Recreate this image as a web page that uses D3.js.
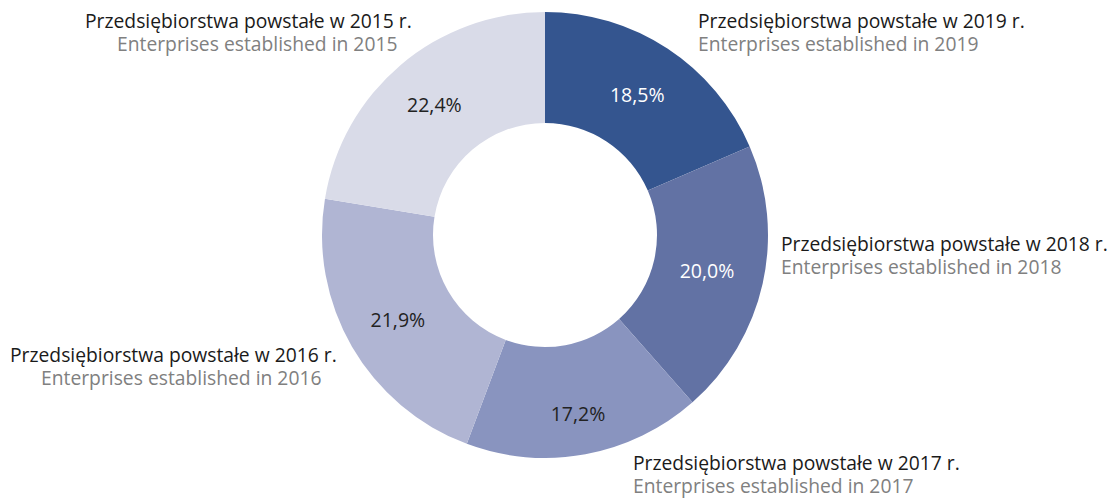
<!DOCTYPE html>
<html>
<head>
<meta charset="utf-8">
<script src="https://cdn.jsdelivr.net/npm/d3@7"></script>
<style>
  body { margin: 0; background: #fff; }
  text { font-family: "Open Sans", "Noto Sans", sans-serif; }
</style>
</head>
<body>
<script>
const svgWidth = 1111;
const svgHeight = 499;

// dane
const years = ['2019', '2018', '2017', '2016', '2015'];
const shares = [18.5, 20.0, 17.2, 21.9, 22.4];
const labelsPl = years.map(y => 'Przedsiębiorstwa powstałe w ' + y + ' r.');
const labelsEn = years.map(y => 'Enterprises established in ' + y);
const colors = ['#34558f', '#6272a4', '#8994bf', '#b0b5d3', '#d9dbe8'];
const valueColors = ['#ffffff', '#ffffff', '#222222', '#222222', '#222222'];

// label placement: [x of line 1, x of line 2, baseline of line 1]
const labelPos = [
    [698, 698, 28],
    [781, 781, 251],
    [633, 633, 470],
    [10, 41, 362],
    [85, 117, 28]
];
// promień, na którym stoją wartości procentowe
const valueRadius = [168, 166, 182, 170, 171];

const cx = 545, cy = 235;
const outerR = 223, innerR = 112;

const svg = d3.select('body')
    .append('svg')
    .attr('width', svgWidth)
    .attr('height', svgHeight);

const pie = d3.pie().sort(null).value(d => d);
const arcs = pie(shares);

const arc = d3.arc().innerRadius(innerR).outerRadius(outerR);

const g = svg.append('g').attr('transform', 'translate(' + cx + ',' + cy + ')');

g.selectAll('path')
    .data(arcs)
    .enter()
    .append('path')
    .attr('d', arc)
    .attr('fill', (d, i) => colors[i]);

const fmt = v => v.toFixed(1).replace('.', ',') + '%';

g.selectAll('.val')
    .data(arcs)
    .enter()
    .append('text')
    .attr('class', 'val')
    .attr('transform', (d, i) => {
        const r = valueRadius[i];
        const c = d3.arc().innerRadius(r).outerRadius(r).centroid(d);
        return 'translate(' + c + ')';
    })
    .attr('text-anchor', 'middle')
    .attr('dy', '0.36em')
    .attr('font-size', 19.5)
    .attr('fill', (d, i) => valueColors[i])
    .text(d => fmt(d.data));

// opisy
const lab = svg.selectAll('.lab')
    .data(years)
    .enter()
    .append('g')
    .attr('class', 'lab');

lab.append('text')
    .attr('x', (d, i) => labelPos[i][0])
    .attr('y', (d, i) => labelPos[i][2])
    .attr('font-size', 19.3)
    .attr('fill', '#1a1a1a')
    .text((d, i) => labelsPl[i]);

lab.append('text')
    .attr('x', (d, i) => labelPos[i][1])
    .attr('y', (d, i) => labelPos[i][2] + 23)
    .attr('font-size', 19.3)
    .attr('fill', '#808080')
    .text((d, i) => labelsEn[i]);
</script>
</body>
</html>
